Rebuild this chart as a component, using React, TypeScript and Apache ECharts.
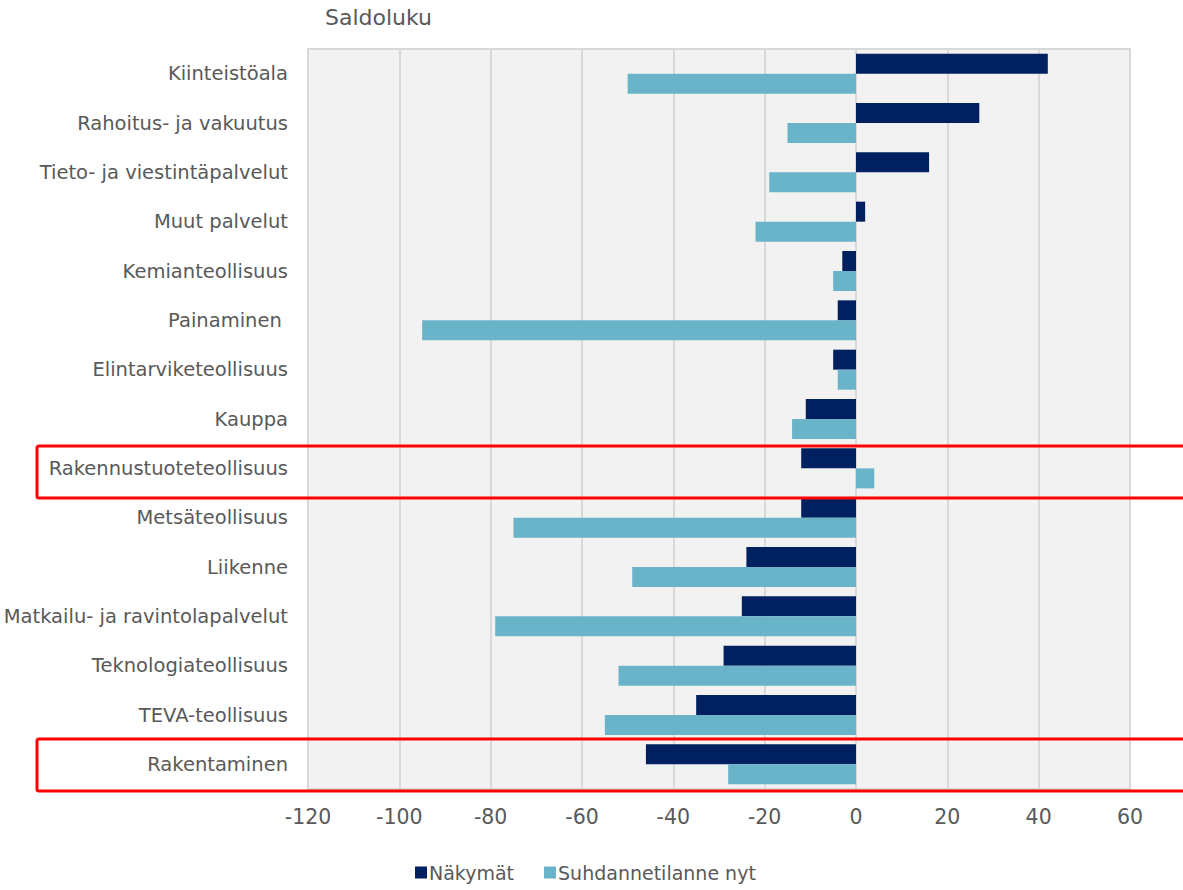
import React, { useEffect, useRef } from "react";
import * as echarts from "echarts";

const categories = [
  "Kiinteistöala",
  "Rahoitus- ja vakuutus",
  "Tieto- ja viestintäpalvelut",
  "Muut palvelut",
  "Kemianteollisuus",
  "Painaminen ",
  "Elintarviketeollisuus",
  "Kauppa",
  "Rakennustuoteteollisuus",
  "Metsäteollisuus",
  "Liikenne",
  "Matkailu- ja ravintolapalvelut",
  "Teknologiateollisuus",
  "TEVA-teollisuus",
  "Rakentaminen",
];

const nakymat = [42, 27, 16, 2, -3, -4, -5, -11, -12, -12, -24, -25, -29, -35, -46];
const suhdannetilanne = [-50, -15, -19, -22, -5, -95, -4, -14, 4, -75, -49, -79, -52, -55, -28];

const xMin = -120;
const xMax = 60;
const xInterval = 20;

const FONT = "'DejaVu Sans', 'Open Sans', sans-serif";
const TEXT = "#595959";

export default function App() {
  const ref = useRef<HTMLDivElement>(null);

  useEffect(() => {
    document.body.style.margin = "0";
    if (!ref.current) return;
    const chart = echarts.init(ref.current, null, { renderer: "svg" });
    const gridLeft = 308;
    const gridRight = 53;
    const gridTop = 49;
    const gridBottom = 101;
    chart.setOption({
      animation: false,
      textStyle: { fontFamily: FONT, color: TEXT },
      title: {
        text: "Saldoluku",
        left: 320,
        top: 1,
        textStyle: { fontFamily: FONT, color: TEXT, fontSize: 22, fontWeight: "normal" },
      },
      legend: {
        bottom: 3,
        left: 410,
        itemWidth: 12,
        itemHeight: 12,
        itemGap: 30,
        icon: "rect",
        textStyle: { fontFamily: FONT, color: TEXT, fontSize: 19, padding: [0, 0, 0, -3] },
        data: ["Näkymät", "Suhdannetilanne nyt"],
      },
      grid: {
        left: gridLeft,
        right: gridRight,
        top: gridTop,
        bottom: gridBottom,
        show: true,
        backgroundColor: "#f2f2f2",
        borderColor: "#d9d9d9",
        borderWidth: 2,
      },
      xAxis: {
        type: "value",
        min: xMin,
        max: xMax,
        interval: xInterval,
        axisLine: { show: false },
        axisTick: { show: false },
        splitLine: { show: true, lineStyle: { color: "#d9d9d9", width: 2 } },
        axisLabel: { color: TEXT, fontSize: 20.5, fontFamily: FONT, margin: 17 },
      },
      yAxis: {
        type: "category",
        data: categories,
        inverse: true,
        axisLine: { show: false },
        axisTick: { show: false },
        axisLabel: { color: TEXT, fontSize: 19.5, fontFamily: FONT, margin: 20 },
      },
      series: [
        {
          name: "Näkymät",
          type: "bar",
          data: nakymat,
          barWidth: 20,
          barGap: "0%",
          itemStyle: { color: "#002060" },
        },
        {
          name: "Suhdannetilanne nyt",
          type: "bar",
          data: suhdannetilanne,
          barWidth: 20,
          barGap: "0%",
          itemStyle: { color: "#69b4c8" },
        },
      ],
      graphic: [
        {
          type: "rect",
          shape: { x: 37, y: 446, width: 1200, height: 52, r: 2 },
          style: { fill: "none", stroke: "#ff0000", lineWidth: 3 },
          z: 100,
        },
        {
          type: "rect",
          shape: { x: 37, y: 739, width: 1200, height: 52, r: 2 },
          style: { fill: "none", stroke: "#ff0000", lineWidth: 3 },
          z: 100,
        },
      ],
    });

    return () => chart.dispose();
  }, []);

  return <div ref={ref} style={{ width: 1183, height: 890 }} />;
}
